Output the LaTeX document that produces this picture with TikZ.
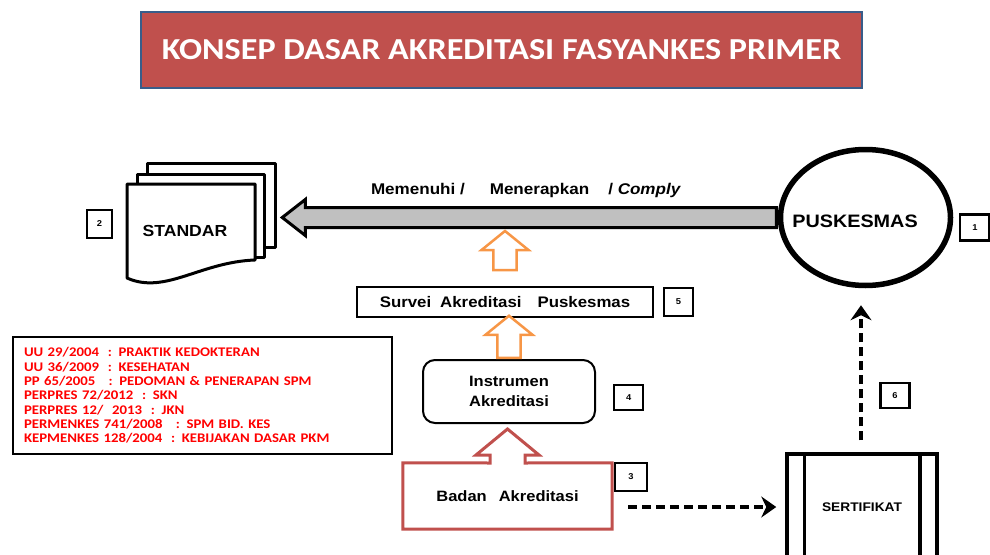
\documentclass[tikz,border=0pt]{standalone}
\usepackage{fontspec}
\setmainfont{Liberation Sans}[FakeStretch=1.1]
\newfontfamily\calibri{Carlito}[FakeStretch=1.12]
\usetikzlibrary{positioning, arrows.meta, shapes.geometric, shapes.arrows, calc}
\definecolor{titleRed}{HTML}{C0504D}
\definecolor{titleBorder}{HTML}{385D8A}
\definecolor{arrowGray}{HTML}{C0C0C0}
\definecolor{surveyOrange}{HTML}{F79646}
\definecolor{lawRed}{HTML}{FF0000}
\definecolor{badanRed}{HTML}{C0504D}

\begin{document}
\begin{tikzpicture}[
  x=1pt, y=-1pt,
  every node/.style={font=\bfseries},
  numbox/.style={
    draw, line width=2.2pt, inner sep=0pt,
    minimum width=29pt, minimum height=26pt,
    font=\bfseries\fontsize{8.5}{10}\selectfont
  },
  sheet/.style={draw, fill=white, line width=3pt, line join=round},
  blockup/.style={
    single arrow, draw=surveyOrange, fill=white, line width=2.5pt,
    inner sep=0pt, inner ysep=10.3pt,
    single arrow head extend=12pt, single arrow tip angle=102,
    rotate=90, anchor=tail
  },
  dasharrow/.style={
    line width=4pt, dash pattern=on 9pt off 5pt,
    -{Stealth[length=15pt, width=21pt, inset=5pt]}
  },
]
\useasboundingbox (0,0) rectangle (990,554);

% === TITLE ===
\node[fill=titleRed, draw=titleBorder, line width=2.5pt,
  minimum width=721pt, minimum height=76pt, text=white,
  font=\calibri\bfseries\fontsize{30.5}{32}\selectfont] (title) at (501.5,50)
  {KONSEP DASAR AKREDITASI FASYANKES PRIMER};

% === STANDAR (stack of sheets) ===
\draw[sheet] (147,163) rectangle (275,247);
\draw[sheet] (137,174) rectangle (264,257);
\draw[sheet] (127,184) -- (255,184) -- (255,260)
  .. controls (200,262) and (165,295) .. (127,278) -- cycle;
\node[font=\bfseries\fontsize{16}{18}\selectfont] (standar) at (185,231) {STANDAR};
\node[numbox, minimum width=25pt, minimum height=28pt] (num2) at (99.5,224) {2};

% === PUSKESMAS ===
\node[ellipse, draw, line width=5.5pt, inner sep=0pt,
  minimum width=170pt, minimum height=136pt] (pusk) at (865.5,217.5) {};
\node[font=\bfseries\fontsize{18}{20}\selectfont] (puskname) at (855,221) {PUSKESMAS};
\node[numbox, right=6pt of pusk, yshift=-10pt] (num1) {1};

% === COMPLY ARROW ===
\node[single arrow, draw, fill=arrowGray, line width=3pt,
  inner sep=0pt, inner ysep=8.5pt, single arrow head extend=8pt,
  single arrow tip angle=76, minimum height=494pt,
  rotate=180, anchor=tail] (comply) at (pusk.west) {};
\node[font=\bfseries\fontsize{15.5}{17}\selectfont] (complytext) at (526,190)
  {Memenuhi /\hspace{25pt}Menerapkan\hspace{19pt}/ \textit{Comply}};

% === SURVEI ===
\node[draw, line width=1.5pt, minimum width=296pt, minimum height=30pt,
  font=\bfseries\fontsize{15.3}{17}\selectfont] (survei) at (505,302)
  {Survei\hspace{9pt}Akreditasi\hspace{16pt}Puskesmas};
\node[numbox, right=9pt of survei, minimum height=28pt] (num5) {5};
\node[blockup, minimum height=39pt] (upper) at ($(survei.north)+(0,-15)$) {};

% === INSTRUMEN ===
\node[draw, line width=2pt, rounded corners=12pt, align=center,
  minimum width=172pt, minimum height=63pt,
  font=\bfseries\fontsize{15}{20}\selectfont] (instr) at (509,391.5)
  {Instrumen\\Akreditasi};
\node[numbox, right=17pt of instr, yshift=-6pt, minimum height=25pt] (num4) {4};
\node[blockup, minimum height=42pt] (lower) at (instr.north) {};

% === BADAN AKREDITASI ===
\node[minimum width=209pt, minimum height=66pt,
  font=\bfseries\fontsize{15}{17}\selectfont] (badan) at (507.5,496)
  {Badan\hspace{12pt}Akreditasi};
\draw[badanRed, line width=3pt, line join=miter]
  (badan.north west) -- (490,463) -- (490,455) -- (476,455) -- (507.5,429)
  -- (539,455) -- (525,455) -- (525,463) -- (badan.north east)
  -- (badan.south east) -- (badan.south west) -- cycle;
\node[numbox, minimum width=32pt, minimum height=28pt] (num3) at (631,477) {3};

% === LEGAL BASIS ===
\node[draw, line width=2.5pt, text=lawRed, align=left,
  inner xsep=11pt, text width=357pt, minimum height=117pt,
  font=\calibri\bfseries\fontsize{13.2}{14.3}\selectfont] (laws) at (202.5,395.5)
  {UU 29/2004\ \ : PRAKTIK KEDOKTERAN\\
   UU 36/2009\ \ : KESEHATAN\\
   PP 65/2005\ \ \ : PEDOMAN \& PENERAPAN SPM\\
   PERPRES 72/2012\ \ : SKN\\
   PERPRES 12/\ \ 2013\ \ : JKN\\
   PERMENKES 741/2008\ \ \ : SPM BID. KES\\
   KEPMENKES 128/2004\ \ : KEBIJAKAN DASAR PKM};

% === SERTIFIKAT ===
\node[draw, line width=3.5pt, minimum width=150pt, minimum height=106pt,
  font=\bfseries\fontsize{12.5}{14}\selectfont] (sert) at (862,507) {SERTIFIKAT};
\draw[line width=3.5pt] ([xshift=19pt]sert.north west) -- ([xshift=19pt]sert.south west);
\draw[line width=3.5pt] ([xshift=-19pt]sert.north east) -- ([xshift=-19pt]sert.south east);

% === DASHED FLOWS ===
\draw[dasharrow] ($(badan.east)+(16,11)$) -- ($(sert.west |- badan.east)+(-9,11)$);
\draw[dasharrow] ($(sert.north)+(-1,-12)$) -- ($(sert.north |- pusk.south)+(-1,17)$);
\node[numbox, minimum height=25pt] (num6) at (895,395.5) {6};

\end{tikzpicture}
\end{document}
